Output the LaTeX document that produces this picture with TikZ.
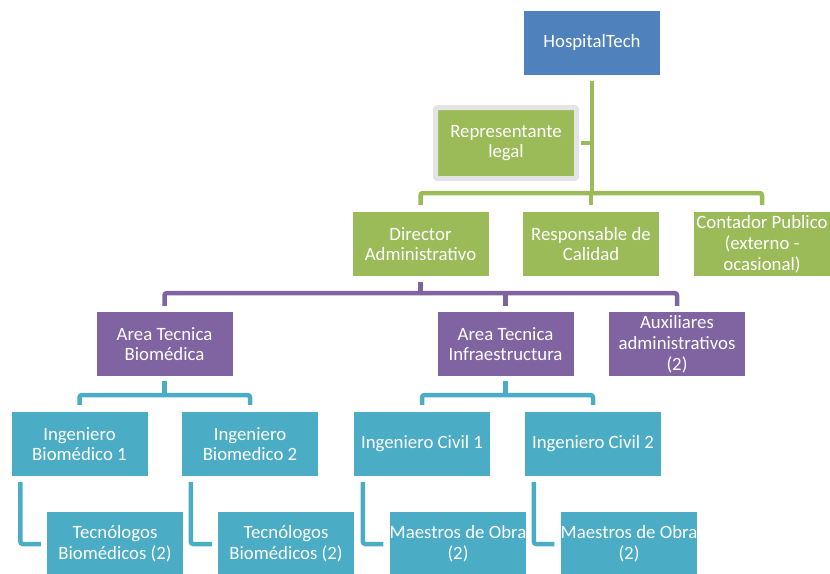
\documentclass[tikz,border=0pt]{standalone}
\usepackage{fontspec}
\setmainfont{Carlito}
\definecolor{cblue}{HTML}{4F81BD}
\definecolor{cgreen}{HTML}{9BBB59}
\definecolor{cpurple}{HTML}{8064A2}
\definecolor{cteal}{HTML}{4BACC6}
\definecolor{cgray}{HTML}{E4E4E4}
\tikzset{
  box/.style={rectangle, inner sep=0pt, text=white, align=center,
    font=\fontsize{18.8}{20.8}\selectfont, minimum width=136pt, minimum height=64pt},
  bbox/.style={box, fill=cblue},
  gbox/.style={box, fill=cgreen},
  pbox/.style={box, fill=cpurple},
  tbox/.style={box, fill=cteal},
  conn/.style={line width=4.5pt, rounded corners=2.5pt},
  gl/.style={conn, draw=cgreen},
  pl/.style={conn, draw=cpurple},
  tl/.style={conn, draw=cteal},
}
\begin{document}
\begin{tikzpicture}[x=1pt,y=-1pt]
\useasboundingbox (0,0) rectangle (830,573);
\clip (0,0) rectangle (830,573);
% nodes
\node[bbox] (ht) at (592,42.5) {HospitalTech};
\node[gbox, draw=cgray, line width=5pt, minimum width=141pt, minimum height=71pt, rounded corners=1.5pt] (rep) at (506,143) {Representante\\legal};
\node[gbox] (dir) at (420.5,244) {Director\\Administrativo};
\node[gbox] (res) at (591,244) {Responsable de\\Calidad};
\node[gbox] (con) at (762,244) {Contador Publico\\(externo -\\ocasional)};
\node[pbox] (bio) at (164.5,344) {Area Tecnica\\Biomédica};
\node[pbox] (inf) at (505.5,344) {Area Tecnica\\Infraestructura};
\node[pbox] (aux) at (677,344) {Auxiliares\\administrativos\\(2)};
\node[tbox] (ib1) at (79.5,444) {Ingeniero\\Biomédico 1};
\node[tbox] (ib2) at (250,444) {Ingeniero\\Biomedico 2};
\node[tbox] (ic1) at (422,444) {Ingeniero Civil 1};
\node[tbox] (ic2) at (593,444) {Ingeniero Civil 2};
\node[tbox] (tb1) at (115,544) {Tecnólogos\\Biomédicos (2)};
\node[tbox] (tb2) at (286,544) {Tecnólogos\\Biomédicos (2)};
\node[tbox] (mo1) at (458,544) {Maestros de Obra\\(2)};
\node[tbox] (mo2) at (629,544) {Maestros de Obra\\(2)};
% green connectors
\coordinate (gbus) at (592,193);
\draw[gl] ([yshift=-6pt]ht.south) -- (gbus);
\draw[gl] ([xshift=2pt]rep.east) -- (rep.east -| gbus);
\draw[gl] ([yshift=7pt]dir.north) |- (gbus) -| ([yshift=7pt]con.north);
\draw[gl] ([yshift=7pt]res.north) -- (res.north |- gbus);
% purple connectors
\coordinate (pbus) at (420.5,293);
\draw[pl] ([yshift=-6pt]dir.south) -- (pbus);
\draw[pl] ([yshift=6pt]bio.north) |- (pbus) -| ([yshift=6pt]aux.north);
\draw[pl] ([yshift=6pt]inf.north) -- (inf.north |- pbus);
% teal connectors
\coordinate (tbus1) at (164.5,395);
\draw[tl] ([yshift=-5pt]bio.south) -- (tbus1);
\draw[tl] ([yshift=7pt]ib1.north) |- (tbus1) -| ([yshift=7pt]ib2.north);
\coordinate (tbus2) at (505.5,395);
\draw[tl] ([yshift=-5pt]inf.south) -- (tbus2);
\draw[tl] ([yshift=7pt]ic1.north) |- (tbus2) -| ([yshift=7pt]ic2.north);
% elbows
\draw[tl] ([xshift=9pt,yshift=-6pt]ib1.south west) |- ([xshift=-6pt]tb1.west);
\draw[tl] ([xshift=9pt,yshift=-6pt]ib2.south west) |- ([xshift=-6pt]tb2.west);
\draw[tl] ([xshift=9pt,yshift=-6pt]ic1.south west) |- ([xshift=-6pt]mo1.west);
\draw[tl] ([xshift=9pt,yshift=-6pt]ic2.south west) |- ([xshift=-6pt]mo2.west);
\end{tikzpicture}
\end{document}
